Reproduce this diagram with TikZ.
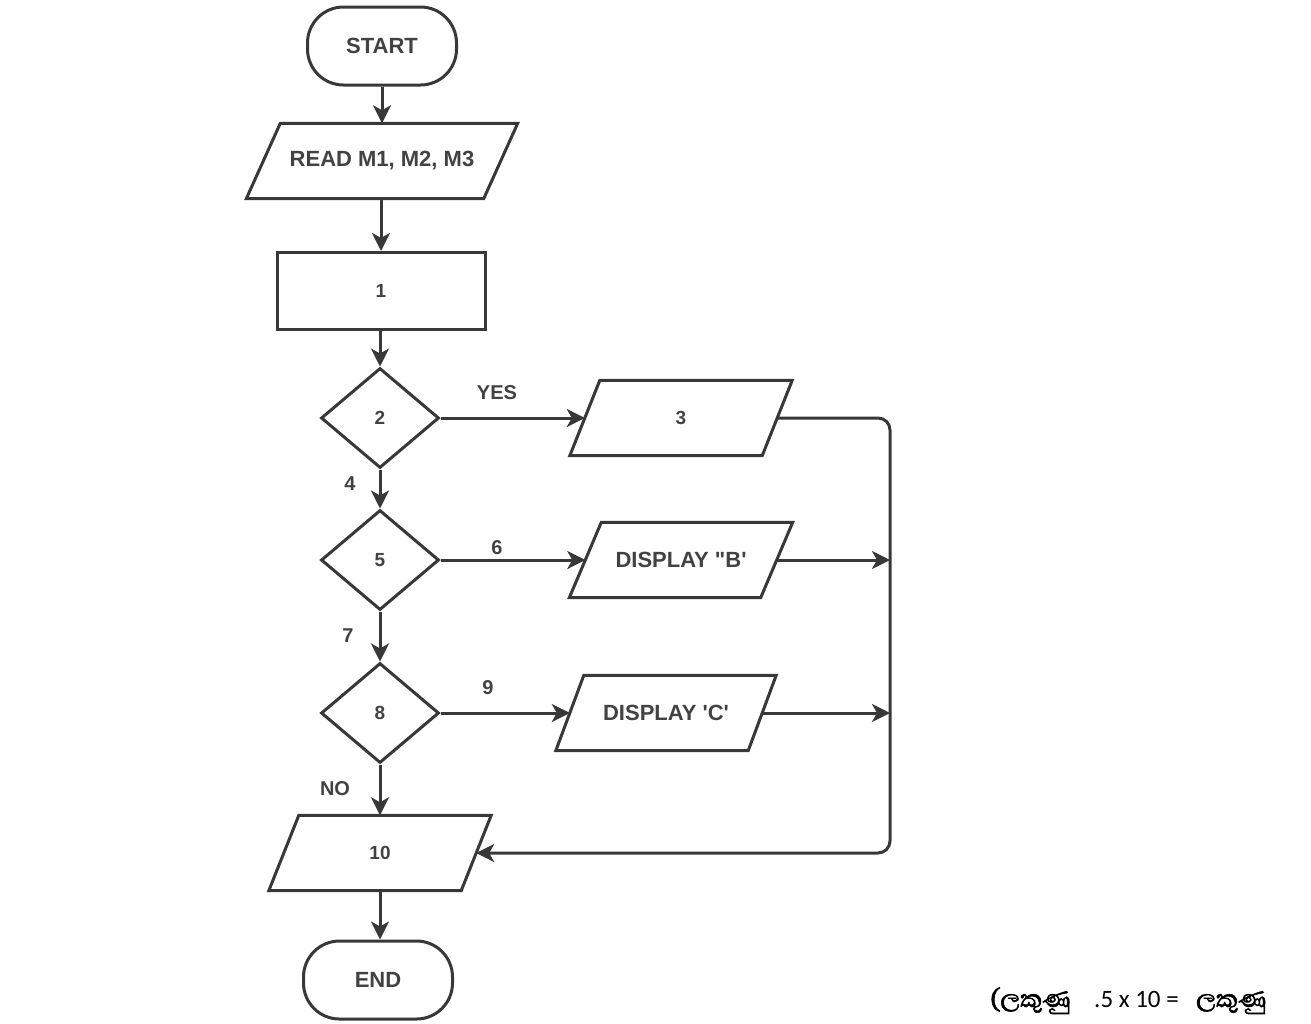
\documentclass[tikz,border=0pt]{standalone}
\usepackage{fontspec}
\setmainfont{Liberation Sans}[Ligatures=TeXOff]
\newfontfamily\sinfont[Script=Sinhala, AutoFakeBold=2]{Abhaya Libre}
\newfontfamily\calfont{Carlito}
\usetikzlibrary{shapes.geometric,arrows.meta,calc}
\definecolor{ink}{HTML}{383838}
\definecolor{txt}{HTML}{424242}
\tikzset{
  base/.style={draw=ink, line width=3pt, text=txt, font=\bfseries\fontsize{22}{22}\selectfont, inner sep=0pt},
  term/.style={base, rectangle, rounded corners=36pt, minimum width=149pt, minimum height=78pt},
  procbox/.style={base, rectangle, minimum width=208pt, minimum height=77pt},
  decide/.style={base, diamond, minimum width=118pt, minimum height=100pt, font=\bfseries\fontsize{19}{19}\selectfont},
  iotext/.style={text=txt, font=\bfseries\fontsize{22}{22}\selectfont, inner sep=0pt, rectangle, minimum height=75pt},
  numtext/.style={font=\bfseries\fontsize{19}{19}\selectfont},
  shapeline/.style={draw=ink, line width=3pt, line join=miter},
  arr/.style={draw=ink, line width=3pt, -{Stealth[length=18pt,width=18pt,inset=5pt]}},
  lbl/.style={text=txt, font=\bfseries\fontsize{20}{20}\selectfont, inner sep=0pt},
  note/.style={anchor=base west, inner sep=0pt, text=black},
}
\newcommand\ioframe[2]{%
  \draw[shapeline] ($(#1.south west)+(-#2,0)$) -- ($(#1.north west)+(#2,0)$)
    -- ($(#1.north east)+(#2,0)$) -- ($(#1.south east)+(-#2,0)$) -- cycle;}
\begin{document}
\begin{tikzpicture}[x=1pt,y=-1pt]
\useasboundingbox (0,0) rectangle (1311,1023);
\fill[white] (0,0) rectangle (1311,1023);

% main column
\node[term] (start) at (382,46) {START};
\node[iotext, minimum width=237pt] (read) at (382,161) {READ M1, M2, M3};
\ioframe{read}{17}
\node[procbox, numtext] (box1) at (381,291) {1};
\node[decide] (d2) at (380,418) {2};
\node[decide] (d5) at (380,560) {5};
\node[decide] (d8) at (380,713) {8};
\node[iotext, numtext, minimum width=192pt] (p10) at (380,853) {10};
\ioframe{p10}{15}
\node[term] (end) at (378,980) {END};

% right column
\node[iotext, numtext, minimum width=192pt] (p3) at (681,418) {3};
\ioframe{p3}{15}
\node[iotext, minimum width=191pt] (pB) at (681,560) {DISPLAY "B'};
\ioframe{pB}{16}
\node[iotext, minimum width=192pt] (pC) at (666,713) {DISPLAY 'C'};
\ioframe{pC}{14}

\coordinate (corner) at (890,853);

% vertical connectors
\draw[arr] (start.south) -- (start.south |- read.north);
\draw[arr] (read.south -| box1.north) -- (box1.north);
\draw[arr] (box1.south -| d2.north) -- (d2.north);
\draw[arr] (d2.south) -- (d5.north);
\draw[arr] (d5.south) -- (d8.north);
\draw[arr] (d8.south) -- (d8.south |- p10.north);
\draw[arr] (p10.south) -- (p10.south |- end.north);

\node[lbl] (l4) at (350,484) {4};
\node[lbl] (l7) at (348,636) {7};
\node[lbl] (lno) at (335,789) {NO};

% branches
\draw[arr] (d2.east) -- (p3.west);
\draw[arr] (d5.east) -- (pB.west);
\draw[arr] (d8.east) -- (pC.west);
\node[lbl] (lyes) at (497,393) {YES};
\node[lbl] (l6) at (497,548) {6};
\node[lbl] (l9) at (488,688) {9};

% return line
\draw[arr, rounded corners=12pt] (p3.east) -| (corner) -- (p10.east);
\draw[arr] (pB.east) -- (pB.east -| corner);
\draw[arr] (pC.east) -- (pC.east -| corner);

% marks note
\node[note, font=\sinfont\bfseries\fontsize{31}{31}\selectfont] (m1) at (990,1007) {(ලකුණු};
\node[note, font=\calfont\fontsize{25}{25}\selectfont] (m2) at (1094,1007) {.5 x 10 =};
\node[note, font=\sinfont\bfseries\fontsize{31}{31}\selectfont] (m3) at (1196,1007) {ලකුණු};
\end{tikzpicture}
\end{document}
